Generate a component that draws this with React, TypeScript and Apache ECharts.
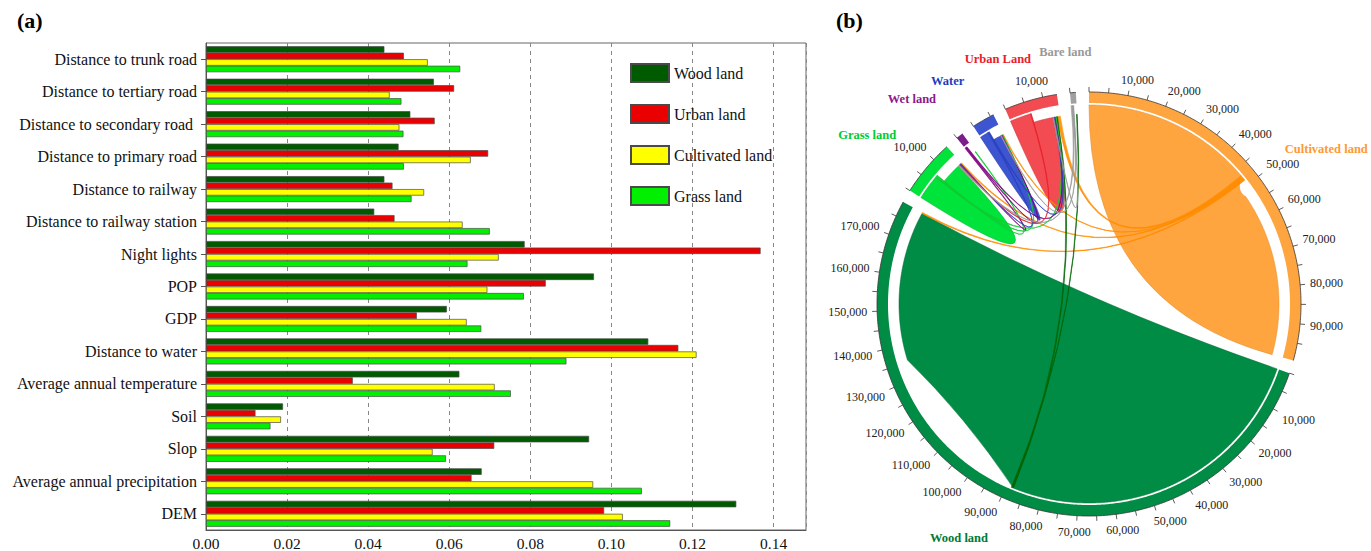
import React, { useEffect, useRef } from "react";
import * as echarts from "echarts";

const FONT = "'Times New Roman', 'Liberation Serif', serif";

// ---------------- (a) bar chart data ----------------
const FACTORS = [
  "Distance to trunk road",
  "Distance to tertiary road",
  "Distance to secondary road ",
  "Distance to primary road",
  "Distance to railway",
  "Distance to railway station",
  "Night lights",
  "POP",
  "GDP",
  "Distance to water",
  "Average annual temperature",
  "Soil",
  "Slop",
  "Average annual precipitation",
  "DEM",
];
const WOOD_LAND = [0.044, 0.0562, 0.0504, 0.0475, 0.044, 0.0415, 0.0786, 0.0957, 0.0594, 0.1091, 0.0625, 0.019, 0.0945, 0.068, 0.1308];
const URBAN_LAND = [0.0488, 0.0612, 0.0564, 0.0696, 0.046, 0.0465, 0.1368, 0.0838, 0.052, 0.1165, 0.0362, 0.0122, 0.0711, 0.0655, 0.0982];
const CULTIVATED_LAND = [0.0547, 0.0453, 0.0477, 0.0653, 0.0538, 0.0633, 0.0722, 0.0694, 0.0643, 0.121, 0.0712, 0.0185, 0.0559, 0.0955, 0.1028];
const GRASS_LAND = [0.0627, 0.0482, 0.0487, 0.0488, 0.0507, 0.07, 0.0645, 0.0784, 0.0679, 0.0889, 0.0752, 0.0159, 0.0592, 0.1075, 0.1145];
const BAR_SERIES = ["Wood land", "Urban land", "Cultivated land", "Grass land"];
const BAR_VALUES = [WOOD_LAND, URBAN_LAND, CULTIVATED_LAND, GRASS_LAND];
const BAR_COLORS = ["#005a00", "#ea0000", "#ffff00", "#00f000"];
const X_MAX = 0.148;
const X_INTERVAL = 0.02;

// ---------------- (b) chord diagram data (areas in thousands) ----------------
const LAND_TYPES = ["Cultivated land", "Wood land", "Grass land", "Wet land", "Water", "Urban Land", "Bare land"];
const LAND_AREA_K = [99.5, 179, 14.7, 1.8, 5.9, 13.7, 1.5];
const LAND_COLORS = ["#ffa540", "#008c45", "#00e33a", "#7b1e8c", "#3d55d0", "#f24c52", "#a0a0a0"];
const EDGE_COLORS = ["#e08a2a", "#006b33", "#00b02c", "#5e126c", "#2a3fa8", "#c93338", "#808080"];
const LINE_COLORS = ["#ff8c00", "#006400", "#10cc30", "#800080", "#2a3fbf", "#e8202a", "#999999"];
const LABEL_COLORS = ["#ff9933", "#007a33", "#00cc33", "#8b1a8b", "#1f3bbf", "#e8202a", "#999999"];
// [from, to, width at source end, width at target end]
const TRANSFERS: [string, string, number, number][] = [
  ["Cultivated land", "Cultivated land", 47, 47],
  ["Cultivated land", "Urban Land", 0.8, 0.8],
  ["Cultivated land", "Grass land", 0.3, 0.3],
  ["Cultivated land", "Water", 0.2, 0.2],
  ["Cultivated land", "Wood land", 0.3, 0.3],
  ["Wood land", "Wood land", 88, 43],
  ["Wood land", "Urban Land", 0.4, 0.4],
  ["Wood land", "Bare land", 0.2, 0.2],
  ["Grass land", "Grass land", 6.8, 5.8],
  ["Grass land", "Urban Land", 0.3, 0.3],
  ["Grass land", "Water", 0.25, 0.25],
  ["Grass land", "Wet land", 0.2, 0.2],
  ["Wet land", "Grass land", 0.25, 0.25],
  ["Wet land", "Water", 0.2, 0.2],
  ["Wet land", "Urban Land", 0.2, 0.2],
  ["Water", "Water", 2.4, 2.2],
  ["Water", "Grass land", 0.2, 0.2],
  ["Water", "Urban Land", 0.2, 0.2],
  ["Urban Land", "Urban Land", 5.8, 5.5],
  ["Urban Land", "Grass land", 0.2, 0.2],
  ["Bare land", "Grass land", 0.3, 0.3],
  ["Bare land", "Urban Land", 0.2, 0.2],
  ["Bare land", "Water", 0.2, 0.2],
];
const TICK_STEP_K = 5;
const LABEL_STEP_K = 10;

// ---------------- chord layout (value space) ----------------
const GAP_K = 3.36;
const GROUP_START: number[] = [];
let accK = 0;
LAND_AREA_K.forEach((v) => {
  GROUP_START.push(accK);
  accK += v + GAP_K;
});
const TOTAL_K = accK;

const gi = (n: string) => LAND_TYPES.indexOf(n);
const isSelf = (k: number) => TRANSFERS[k][0] === TRANSFERS[k][1];
const ENDS = TRANSFERS.map(() => ({ s0: 0, s1: 0, t0: 0, t1: 0 }));
{
  const outCur = GROUP_START.slice();
  const inCur = GROUP_START.map((s, i) => s + LAND_AREA_K[i]);
  const idx = TRANSFERS.map((_, i) => i);
  const outOrder = [...idx].sort((a, b) => (isSelf(b) ? 1 : 0) - (isSelf(a) ? 1 : 0));
  outOrder.forEach((k) => {
    const s = gi(TRANSFERS[k][0]);
    ENDS[k].s0 = outCur[s];
    outCur[s] += TRANSFERS[k][2];
    ENDS[k].s1 = outCur[s];
  });
  const inOrder = [...idx].sort((a, b) => (isSelf(a) ? 1 : 0) - (isSelf(b) ? 1 : 0));
  inOrder.forEach((k) => {
    const t = gi(TRANSFERS[k][1]);
    ENDS[k].t1 = inCur[t];
    inCur[t] -= TRANSFERS[k][3];
    ENDS[k].t0 = inCur[t];
  });
}
const DRAW_ORDER = TRANSFERS.map((_, i) => i).sort((a, b) => (isSelf(b) ? 1 : 0) - (isSelf(a) ? 1 : 0));

const TICKS: { v: number; local: number; label: boolean }[] = [];
LAND_AREA_K.forEach((size, i) => {
  for (let v = 0; v <= size + 1e-9; v += TICK_STEP_K) {
    TICKS.push({ v: GROUP_START[i] + v, local: v, label: v > 0 && v % LABEL_STEP_K === 0 });
  }
});

// geometry styling
const CENTER = [1089, 304];
const R_OUT = 212;
const R_IN = 201;
const R_LINK = 199;
const R_LINK_T = 190;
const TICK_LEN = 5;
const SELF_BEND = 0.95;
const GROUP_LABEL_R = 246;
const GROUP_LABEL_LEFT_PUSH = 8;

let measureCtx: CanvasRenderingContext2D | null = null;
function measure(text: string, font: string) {
  if (!measureCtx) measureCtx = document.createElement("canvas").getContext("2d");
  if (!measureCtx) return text.length * 6;
  measureCtx.font = font;
  return measureCtx.measureText(text).width;
}
const clamp1 = (x: number) => Math.max(-1, Math.min(1, x));
const thetaOf = (v: number) => ((v / TOTAL_K) * 360 * Math.PI) / 180;

function pt(api: any, r: number, v: number) {
  const p = api.coord([r, v]);
  return p[0].toFixed(2) + " " + p[1].toFixed(2);
}
function arcSeg(api: any, r: number, v0: number, v1: number) {
  const n = Math.max(2, Math.ceil(Math.abs(v1 - v0) / 0.4) + 1);
  const out: string[] = [];
  for (let i = 0; i < n; i++) out.push(pt(api, r, v0 + ((v1 - v0) * i) / (n - 1)));
  return out;
}
function placedText(api: any, r: number, v: number, text: string, size: number, weight: string, color: string) {
  const theta = thetaOf(v);
  const a = api.coord([r, v]);
  const w = measure(text, `${weight} ${size}px 'Liberation Serif'`);
  const h = size;
  const x = a[0] + (w / 2) * clamp1(2.5 * Math.sin(theta));
  const y = a[1] - (h / 2) * clamp1(2.5 * Math.cos(theta));
  return {
    type: "text",
    x,
    y,
    style: { text, fill: color, fontSize: size, fontFamily: FONT, fontWeight: weight, align: "center", verticalAlign: "middle" },
  };
}

function buildOption() {
  const barSeries = BAR_SERIES.map((name, i) => ({
    type: "bar",
    name,
    data: BAR_VALUES[i],
    xAxisIndex: 0,
    yAxisIndex: 0,
    barGap: "0%",
    barCategoryGap: "20%",
    itemStyle: { color: BAR_COLORS[i], borderColor: "#4a4a4a", borderWidth: 0.7 },
  }));

  const bandSeries = {
    type: "custom",
    coordinateSystem: "polar",
    polarIndex: 0,
    clip: false,
    silent: true,
    data: LAND_TYPES.map(() => [0, 0]),
    renderItem: (params: any, api: any) => {
      const i = params.dataIndex;
      const s = GROUP_START[i];
      const e = s + LAND_AREA_K[i];
      const outer = arcSeg(api, R_OUT, s, e);
      const inner = arcSeg(api, R_IN, e, s);
      const d = "M " + outer.join(" L ") + " L " + inner.join(" L ") + " Z";
      return {
        type: "group",
        children: [
          { type: "path", shape: { pathData: d }, style: { fill: LAND_COLORS[i], stroke: null } },
          { type: "path", shape: { pathData: "M " + outer.join(" L ") }, style: { fill: null, stroke: "#333", lineWidth: 0.8 } },
        ],
      };
    },
  };

  const chordSeries = {
    type: "custom",
    coordinateSystem: "polar",
    polarIndex: 0,
    clip: false,
    silent: true,
    data: DRAW_ORDER.map(() => [0, 0]),
    renderItem: (params: any, api: any) => {
      const k = DRAW_ORDER[params.dataIndex];
      const si = gi(TRANSFERS[k][0]);
      const self = isSelf(k);
      const e = ENDS[k];
      const a = arcSeg(api, R_LINK, e.s0, e.s1);
      const b = arcSeg(api, R_LINK_T, e.t0, e.t1);
      const c = pt(api, 0, 0);
      let c1 = c;
      if (self) {
        const dDeg = ((e.t0 - e.s1) / TOTAL_K) * 360;
        const rc = SELF_BEND * ((R_LINK + R_LINK_T) / 2) * Math.cos(((dDeg / 2) * Math.PI) / 180);
        c1 = pt(api, rc, (e.s1 + e.t0) / 2);
      }
      const d = "M " + a.join(" L ") + " Q " + c1 + " " + b.join(" L ") + " Q " + c + " " + a[0] + " Z";
      return {
        type: "path",
        shape: { pathData: d },
        style: {
          fill: self ? LAND_COLORS[si] : LINE_COLORS[si],
          stroke: self ? EDGE_COLORS[si] : LINE_COLORS[si],
          lineWidth: self ? 0.5 : 0.7,
          opacity: self ? 1 : 0.9,
        },
      };
    },
  };

  const tickSeries = {
    type: "custom",
    coordinateSystem: "polar",
    polarIndex: 0,
    clip: false,
    silent: true,
    data: TICKS.map(() => [0, 0]),
    renderItem: (params: any, api: any) => {
      const t = TICKS[params.dataIndex];
      const p1 = api.coord([R_OUT, t.v]);
      const p2 = api.coord([R_OUT + TICK_LEN, t.v]);
      const children: any[] = [
        { type: "line", shape: { x1: p1[0], y1: p1[1], x2: p2[0], y2: p2[1] }, style: { stroke: "#333", lineWidth: 0.8 } },
      ];
      if (t.label) {
        const txt = (t.local * 1000).toLocaleString("en-US");
        children.push(placedText(api, R_OUT + TICK_LEN + 5, t.v, txt, 12, "normal", "#222"));
      }
      return { type: "group", children };
    },
  };

  const groupLabelSeries = {
    type: "custom",
    coordinateSystem: "polar",
    polarIndex: 0,
    clip: false,
    silent: true,
    data: LAND_TYPES.map(() => [0, 0]),
    renderItem: (params: any, api: any) => {
      const i = params.dataIndex;
      const mid = GROUP_START[i] + LAND_AREA_K[i] / 2;
      const r = GROUP_LABEL_R + GROUP_LABEL_LEFT_PUSH * Math.max(0, -Math.sin(thetaOf(mid)));
      return placedText(api, r, mid, LAND_TYPES[i], 12.5, "bold", LABEL_COLORS[i]);
    },
  };

  return {
    animation: false,
    backgroundColor: "#ffffff",
    title: [
      { text: "(a)", left: 17, top: 9, padding: 0, textStyle: { fontFamily: FONT, fontWeight: "bold", fontSize: 22, color: "#000" } },
      { text: "(b)", left: 836, top: 9, padding: 0, textStyle: { fontFamily: FONT, fontWeight: "bold", fontSize: 22, color: "#000" } },
    ],
    legend: {
      data: BAR_SERIES,
      orient: "vertical",
      left: 630,
      top: 63,
      padding: 0,
      itemWidth: 38,
      itemHeight: 18,
      itemGap: 21,
      icon: "rect",
      textStyle: { fontFamily: FONT, fontSize: 16, color: "#111" },
    },
    grid: {
      left: 206,
      top: 43,
      width: 600,
      height: 487,
      show: true,
      borderColor: "#666",
      borderWidth: 1,
      containLabel: false,
      outerBoundsMode: "none",
    },
    xAxis: {
      type: "value",
      min: 0,
      max: X_MAX,
      interval: X_INTERVAL,
      axisLine: { show: true, lineStyle: { color: "#555" } },
      axisTick: { show: false },
      splitLine: { show: true, lineStyle: { type: [4, 4], color: "#888", width: 1 } },
      axisLabel: {
        fontFamily: FONT,
        fontSize: 15.5,
        color: "#111",
        margin: 5,
        showMaxLabel: false,
        formatter: (v: number) => v.toFixed(2),
      },
    },
    yAxis: {
      type: "category",
      data: FACTORS,
      inverse: true,
      axisLine: { show: true, lineStyle: { color: "#555" } },
      axisTick: { show: true, alignWithLabel: true, length: 5, lineStyle: { color: "#555" } },
      splitLine: { show: false },
      axisLabel: { fontFamily: FONT, fontSize: 16, color: "#111", margin: 9 },
    },
    polar: { center: CENTER, radius: R_OUT },
    angleAxis: { type: "value", min: 0, max: TOTAL_K, startAngle: 90, clockwise: true, show: false },
    radiusAxis: { type: "value", min: 0, max: R_OUT, show: false },
    series: [...barSeries, bandSeries, chordSeries, tickSeries, groupLabelSeries],
  };
}

export default function App() {
  const ref = useRef<HTMLDivElement>(null);
  useEffect(() => {
    if (!ref.current) return;
    const chart = echarts.init(ref.current, undefined, { renderer: "svg" });
    chart.setOption(buildOption() as any);
    return () => chart.dispose();
  }, []);
  return (
    <div
      ref={ref}
      style={{ position: "fixed", left: 0, top: 0, width: 1371, height: 551, background: "#fff" }}
    />
  );
}
